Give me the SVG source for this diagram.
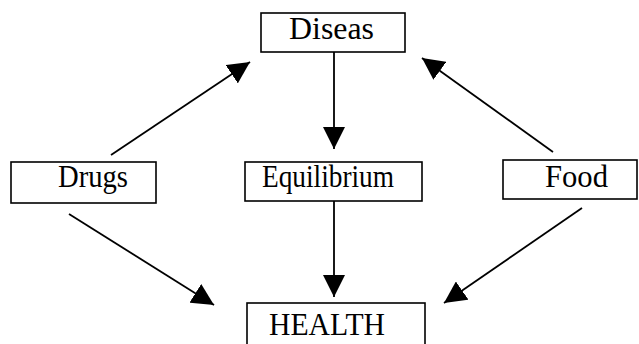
<svg xmlns="http://www.w3.org/2000/svg" width="639" height="344" viewBox="0 0 639 344">
<style>
.box{fill:#fff;stroke:#000;stroke-width:1.6}
.lbl{font-family:"Liberation Serif","Times New Roman",serif;font-size:31px;fill:#000}
.con{stroke:#000;stroke-width:1.8;fill:none;marker-end:url(#ah)}
</style>
<defs>
<marker id="ah" viewBox="0 0 22 22" refX="22" refY="11" markerWidth="22" markerHeight="22" markerUnits="userSpaceOnUse" orient="auto">
<path d="M0,0 L22,11 L0,22 z" fill="#000"/>
</marker>
</defs>
<rect width="639" height="344" fill="#fff"/>
<g id="connectors">
<line class="con" x1="111" y1="155" x2="250" y2="62"/>
<line class="con" x1="553" y1="152" x2="422" y2="58"/>
<line class="con" x1="334" y1="52" x2="334" y2="149"/>
<line class="con" x1="334" y1="201" x2="334" y2="297"/>
<line class="con" x1="69" y1="214" x2="214" y2="305"/>
<line class="con" x1="582" y1="208" x2="444" y2="303"/>
</g>
<g id="diseas">
<rect class="box" x="261" y="13" width="144" height="39"/>
<text class="lbl" x="289" y="39" textLength="85" lengthAdjust="spacingAndGlyphs">Diseas</text>
</g>
<g id="drugs">
<rect class="box" x="11" y="162" width="145" height="41"/>
<text class="lbl" x="58" y="187" textLength="70" lengthAdjust="spacingAndGlyphs">Drugs</text>
</g>
<g id="equilibrium">
<rect class="box" x="245" y="162" width="177" height="39"/>
<text class="lbl" x="262" y="187" textLength="132" lengthAdjust="spacingAndGlyphs">Equilibrium</text>
</g>
<g id="food">
<rect class="box" x="503" y="160" width="134" height="39"/>
<text class="lbl" x="545" y="187" textLength="63" lengthAdjust="spacingAndGlyphs">Food</text>
</g>
<g id="health">
<rect class="box" x="247" y="303" width="178" height="45"/>
<text class="lbl" x="269" y="335" textLength="116" lengthAdjust="spacingAndGlyphs">HEALTH</text>
</g>
</svg>
